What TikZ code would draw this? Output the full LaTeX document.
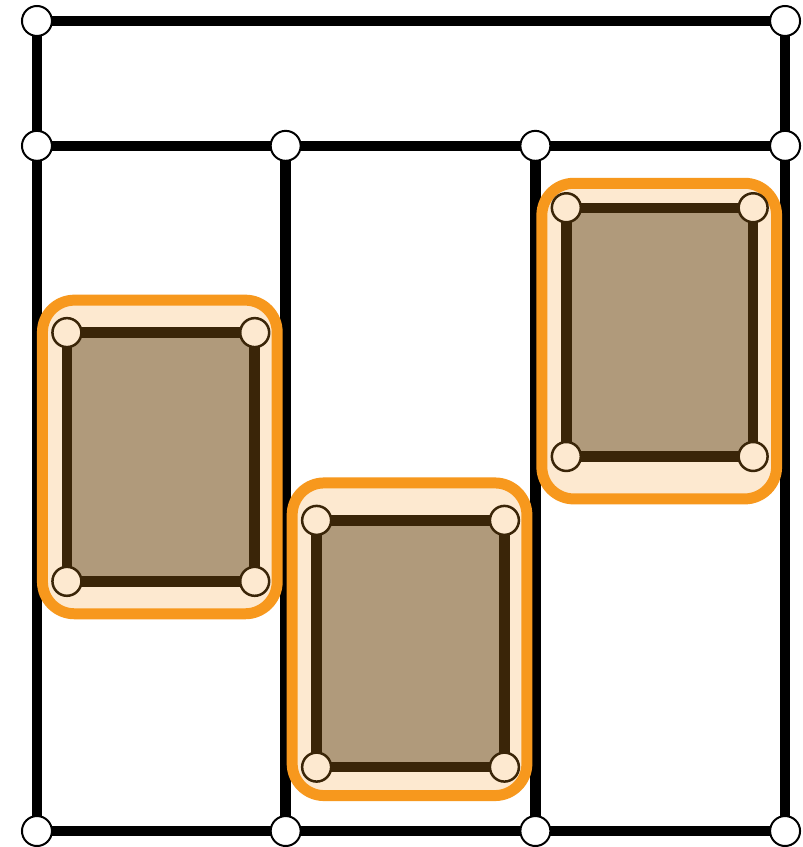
\documentclass[tikz,border=0pt]{standalone}
\usetikzlibrary{backgrounds}

\definecolor{haloorange}{HTML}{F7981D}
\definecolor{cream}{HTML}{FDE9D0}
\definecolor{tan}{HTML}{B09A7B}
\definecolor{darkbrown}{HTML}{3A2508}

\begin{document}
\begin{tikzpicture}[
  x=1pt, y=-1pt,
  gridpt/.style={circle, draw, fill=white, line width=2pt, minimum size=30pt, inner sep=0pt},
  cornerpt/.style={circle, draw=darkbrown, fill=cream, line width=2.5pt, minimum size=29pt, inner sep=0pt},
  wall/.style={line width=10.5pt},
  rim/.style={draw=darkbrown, line width=10.5pt},
  halo/.style={draw=haloorange, fill=cream, line width=11pt, rounded corners=32pt}
]
  % grid points
  \node[gridpt] (g1) at (37,21) {};
  \node[gridpt] (g2) at (786,21) {};
  \node[gridpt] (g3) at (37,146) {};
  \node[gridpt] (g4) at (286,146) {};
  \node[gridpt] (g5) at (536,146) {};
  \node[gridpt] (g6) at (786,146) {};
  \node[gridpt] (g7) at (37,832) {};
  \node[gridpt] (g8) at (286,832) {};
  \node[gridpt] (g9) at (536,832) {};
  \node[gridpt] (g10) at (786,832) {};

  % highlighted rooms
  \node[cornerpt] (r1nw) at (67,333) {};
  \node[cornerpt] (r1ne) at (255,333) {};
  \node[cornerpt] (r1sw) at (67,582) {};
  \node[cornerpt] (r1se) at (255,582) {};

  \node[cornerpt] (r2nw) at (317,521) {};
  \node[cornerpt] (r2ne) at (505,521) {};
  \node[cornerpt] (r2sw) at (317,768) {};
  \node[cornerpt] (r2se) at (505,768) {};

  \node[cornerpt] (r3nw) at (567,208) {};
  \node[cornerpt] (r3ne) at (754,208) {};
  \node[cornerpt] (r3sw) at (567,457) {};
  \node[cornerpt] (r3se) at (754,457) {};

  \begin{scope}[on background layer]
    \path[fill=white, use as bounding box] (0,0) rectangle (803,847);

    \draw[wall] (g1.center) -- (g2.center);
    \draw[wall] (g1.center) -- (g3.center) -- (g7.center);
    \draw[wall] (g2.center) -- (g6.center) -- (g10.center);
    \draw[wall] (g3.center) -- (g4.center) -- (g5.center) -- (g6.center);
    \draw[wall] (g7.center) -- (g8.center) -- (g9.center) -- (g10.center);
    \draw[wall] (g4.center) -- (g8.center);
    \draw[wall] (g5.center) -- (g9.center);

    \draw[halo] (42.5,300.5) rectangle (277.5,614.5);
    \draw[halo] (292.5,483.5) rectangle (527.5,796.5);
    \draw[halo] (542.5,183.5) rectangle (777.5,499.5);

    \foreach \r in {1,2,3} {
      \fill[tan] (r\r nw.center) rectangle (r\r se.center);
      \draw[rim] (r\r nw.center) -- (r\r ne.center) -- (r\r se.center)
        -- (r\r sw.center) -- cycle;
    }
  \end{scope}
\end{tikzpicture}
\end{document}
